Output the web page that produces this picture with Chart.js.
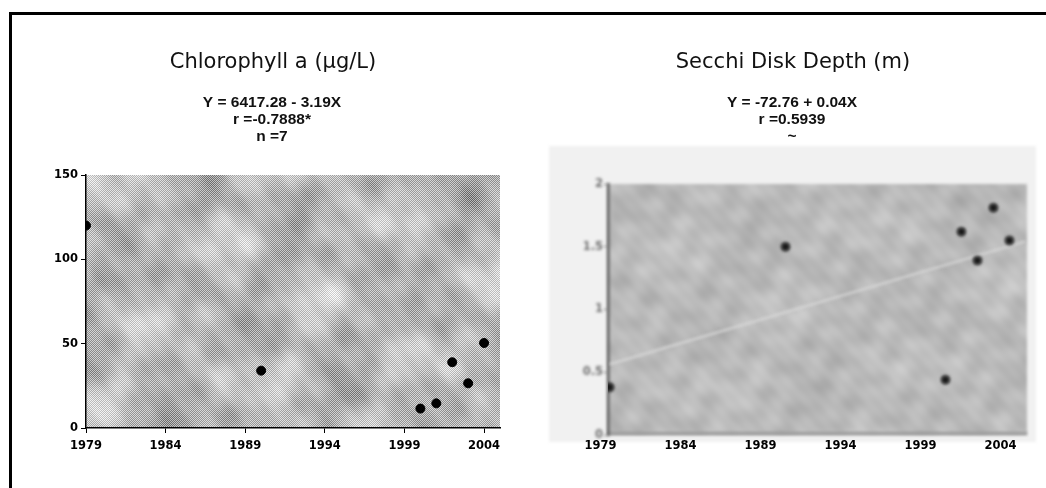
<!DOCTYPE html>
<html>
<head>
<meta charset="utf-8">
<script src="https://cdn.jsdelivr.net/npm/chart.js@4"></script>
<style>
  body { margin: 0; background: #fff; width: 1046px; height: 488px; overflow: hidden; position: relative; }
  #frame { position: absolute; left: 9px; top: 12px; width: 1100px; height: 500px; border-top: 3px solid #000; border-left: 3px solid #000; }
  #chl { position: absolute; left: 14px; top: 14px; }
  #secchi { position: absolute; left: 532px; top: 14px; }
</style>
</head>
<body>
<div id="frame"></div>
<canvas id="chl" width="518" height="456"></canvas>
<canvas id="secchi" width="514" height="456"></canvas>
<script>
// sampling years and measured values
const years = [1979, 1990, 2000, 2001, 2002, 2003, 2004];
const chlorophyll = [120, 34, 11.5, 14.6, 39, 26.5, 50.4];
const secchi = [0.38, 1.50, 0.44, 1.62, 1.39, 1.81, 1.55];

const yearTicks = [1979, 1984, 1989, 1994, 1999, 2004];
const chlTicks = [0, 50, 100, 150];
const secchiTicks = [0, 0.5, 1, 1.5, 2];

const chlHeader = ['Chlorophyll a (µg/L)', 'Y = 6417.28 - 3.19X', 'r =-0.7888*', 'n =7'];
const secchiHeader = ['Secchi Disk Depth (m)', 'Y = -72.76 + 0.04X', 'r =0.5939', '~'];

// least squares fit, used for the trend line
function fitLine(xs, ys) {
  const n = xs.length;
  const mx = xs.reduce((a, b) => a + b, 0) / n;
  const my = ys.reduce((a, b) => a + b, 0) / n;
  let sxy = 0, sxx = 0;
  xs.forEach((x, i) => { sxy += (x - mx) * (ys[i] - my); sxx += (x - mx) * (x - mx); });
  const b = sxy / sxx;
  return x => my + b * (x - mx);
}

const tickFont = { family: 'DejaVu Sans', weight: 'bold', size: 11.5 };

// title + regression text above each plot
const header = {
  id: 'header',
  afterDraw(chart, args, opts) {
    const ctx = chart.ctx;
    ctx.save();
    ctx.fillStyle = '#111';
    ctx.textAlign = 'center';
    ctx.textBaseline = 'middle';
    ctx.font = '21px "DejaVu Sans"';
    ctx.fillText(opts.lines[0], opts.cx, 49);
    ctx.font = 'bold 15.5px "Liberation Sans"';
    opts.lines.slice(1).forEach((t, i) => ctx.fillText(t, opts.cx - 1, 89 + i * 17));
    ctx.restore();
  }
};

// soft blotchy shading for the plot backgrounds, roughly -1..1
function mottle(x, y) {
  return (Math.sin(0.043 * x + 0.031 * y) +
    Math.sin(0.029 * x - 0.052 * y + 1.3) +
    0.7 * Math.sin(0.071 * x + 0.017 * y + 2.1) +
    0.6 * Math.sin(0.011 * x + 0.09 * y + 0.4) +
    0.5 * Math.sin(0.13 * x - 0.11 * y + 0.9)) / 3.8;
}

function texture(w, h, shade) {
  const c = document.createElement('canvas');
  c.width = w; c.height = h;
  const g = c.getContext('2d');
  const img = g.createImageData(w, h);
  for (let y = 0; y < h; y++) {
    for (let x = 0; x < w; x++) {
      const v = shade(x, y);
      const k = (y * w + x) * 4;
      img.data[k] = img.data[k + 1] = img.data[k + 2] = v;
      img.data[k + 3] = 255;
    }
  }
  g.putImageData(img, 0, 0);
  return c;
}

// dithered grey fill behind the chlorophyll plot
const chlBackground = {
  id: 'chlBackground',
  beforeDraw(chart) {
    const { ctx, chartArea: a } = chart;
    const w = Math.round(a.right - a.left), h = Math.round(a.bottom - a.top);
    const tex = texture(w, h, (x, y) => {
      const m = mottle(x, y) + 0.5 * mottle(x * 2.7 + 50, y * 2.3);
      return (x + y) % 2 === 0 ? 150 + 45 * m : 218 + 28 * m;
    });
    ctx.drawImage(tex, a.left, a.top);
  }
};

// the Secchi panel is soft: blur everything up to the datasets
const secchiBackground = {
  id: 'secchiBackground',
  beforeDraw(chart) {
    const { ctx, chartArea: a } = chart;
    const w = Math.round(a.right - a.left), h = Math.round(a.bottom - a.top);
    ctx.save();
    ctx.filter = 'blur(1.6px)';
    ctx.fillStyle = '#f1f1f1';
    ctx.fillRect(17, 132, 487, 296);
    const tex = texture(w, h, (x, y) => 186 + 16 * mottle(x * 3.1, y * 3.3) + 10 * mottle(x * 0.8 + 90, y));
    ctx.drawImage(tex, a.left, a.top);
    ctx.fillStyle = '#9a9a9a';
    ctx.fillRect(a.left, a.bottom - 3, a.right - a.left, 3);
  },
  afterDatasetsDraw(chart) {
    chart.ctx.restore();
  }
};

new Chart(document.getElementById('chl'), {
  type: 'scatter',
  data: {
    datasets: [{
      data: years.map((x, i) => ({ x, y: chlorophyll[i] })),
      backgroundColor: '#000',
      borderColor: '#000',
      pointRadius: 4.5
    }]
  },
  options: {
    responsive: false,
    animation: false,
    layout: { padding: { top: 161, left: 32, right: 32, bottom: 2 } },
    plugins: {
      legend: { display: false },
      tooltip: { enabled: false },
      header: { lines: chlHeader, cx: 259 }
    },
    scales: {
      x: {
        type: 'linear', min: 1979, max: 2005,
        afterBuildTicks: s => { s.ticks = yearTicks.map(v => ({ value: v })); },
        afterFit: s => { s.height = 40; },
        grid: { drawOnChartArea: false, color: '#000', tickLength: 5 },
        border: { color: '#000', width: 1.5 },
        ticks: { font: tickFont, color: '#000', padding: 6, maxRotation: 0, callback: v => String(v) }
      },
      y: {
        min: 0, max: 150,
        afterBuildTicks: s => { s.ticks = chlTicks.map(v => ({ value: v })); },
        afterFit: s => { s.width = 40; },
        grid: { drawOnChartArea: false, color: '#000', tickLength: 5 },
        border: { color: '#000', width: 1.5 },
        ticks: { font: tickFont, color: '#000', padding: 3 }
      }
    }
  },
  plugins: [chlBackground, header]
});

const trend = fitLine(years, secchi);

new Chart(document.getElementById('secchi'), {
  type: 'scatter',
  data: {
    datasets: [{
      data: years.map((x, i) => ({ x, y: secchi[i] })),
      backgroundColor: '#1a1a1a',
      borderColor: '#1a1a1a',
      pointRadius: 4
    }, {
      data: [{ x: 1979, y: trend(1979) }, { x: 2005, y: trend(2005) }],
      showLine: true,
      pointRadius: 0,
      borderColor: '#d8d8d8',
      borderWidth: 2
    }]
  },
  options: {
    responsive: false,
    animation: false,
    layout: { padding: { top: 170, left: 27, right: 19, bottom: 0 } },
    plugins: {
      legend: { display: false },
      tooltip: { enabled: false },
      header: { lines: secchiHeader, cx: 261 }
    },
    scales: {
      x: {
        type: 'linear', min: 1978.9, max: 2005.1,
        afterBuildTicks: s => { s.ticks = yearTicks.map(v => ({ value: v })); },
        afterFit: s => { s.height = 35; },
        grid: { display: false, drawTicks: false },
        border: { display: false },
        // labels drawn after the datasets so they stay sharp
        ticks: { z: 1, font: tickFont, color: '#000', padding: 4, labelOffset: -9, maxRotation: 0, callback: v => String(v) }
      },
      y: {
        min: 0, max: 2,
        afterBuildTicks: s => { s.ticks = secchiTicks.map(v => ({ value: v })); },
        afterFit: s => { s.width = 49; },
        grid: { drawOnChartArea: false, color: '#666', tickLength: 4 },
        border: { color: '#555', width: 2.5 },
        ticks: { font: { family: 'DejaVu Sans', weight: 'bold', size: 11.5 }, color: '#707070', padding: 1, callback: v => String(v) }
      }
    }
  },
  plugins: [secchiBackground, header]
});
</script>
</body>
</html>
